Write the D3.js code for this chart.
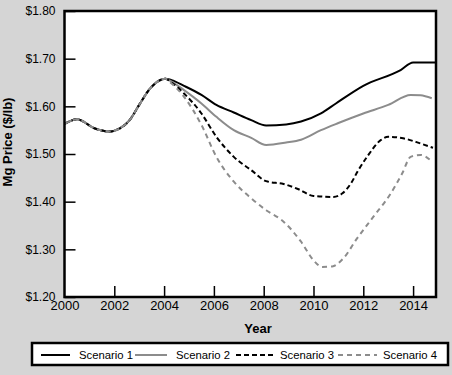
<!DOCTYPE html>
<html>
  <head>
    <meta charset="utf-8">
    <script src="https://d3js.org/d3.v7.min.js"></script>
    <style>
      body { margin: 0; background: #d5d5d5; }
      text { font-family: "Liberation Sans", Arial, sans-serif; }
    </style>
  </head>
  <body>
    <svg width="452" height="375"></svg>
    <script>

    // shared history (all scenarios equal up to 2004)
    var commonYears  = [2000, 2000.5, 2001.2, 2001.8, 2002.2, 2002.6, 2003, 2003.4, 2003.8, 2004.05];
    var commonPrices = [1.563, 1.573, 1.554, 1.547, 1.553, 1.570, 1.603, 1.635, 1.654, 1.658];

    // scenario forecasts after the 2004 peak
    var s1Years  = [2004.3, 2004.8, 2005.5, 2006.1, 2006.8, 2007.5, 2008.1, 2008.9, 2009.5, 2010.3, 2010.9, 2012, 2013.5, 2014, 2014.92];
    var s1Prices = [1.655, 1.643, 1.624, 1.603, 1.587, 1.571, 1.560, 1.562, 1.568, 1.585, 1.606, 1.643, 1.676, 1.692, 1.692];

    var s2Years  = [2004.3, 2004.8, 2005.5, 2006.1, 2006.8, 2007.5, 2008.1, 2008.9, 2009.5, 2010.3, 2011, 2012, 2013, 2013.9, 2014.3, 2014.75];
    var s2Prices = [1.652, 1.634, 1.606, 1.578, 1.550, 1.534, 1.519, 1.524, 1.530, 1.550, 1.565, 1.585, 1.603, 1.624, 1.623, 1.617];

    var s3Years  = [2004.3, 2004.8, 2005.5, 2006.1, 2006.8, 2007.5, 2008.1, 2008.8, 2009.4, 2010, 2010.8, 2011.15, 2011.5, 2011.8, 2012.15, 2012.7, 2013, 2013.6, 2014.3, 2014.8];
    var s3Prices = [1.650, 1.627, 1.585, 1.536, 1.494, 1.466, 1.443, 1.437, 1.426, 1.412, 1.410, 1.417, 1.438, 1.466, 1.494, 1.529, 1.536, 1.533, 1.522, 1.513];

    var s4Years  = [2004.3, 2004.8, 2005.5, 2006.1, 2006.8, 2007.5, 2008.1, 2008.8, 2009.5, 2010, 2010.35, 2010.75, 2011.2, 2011.75, 2012.4, 2013.1, 2013.56, 2013.9, 2014.3, 2014.7];
    var s4Prices = [1.648, 1.620, 1.561, 1.494, 1.442, 1.407, 1.382, 1.358, 1.316, 1.277, 1.263, 1.264, 1.281, 1.323, 1.368, 1.417, 1.459, 1.494, 1.498, 1.487];

    var scenarioNames = ["Scenario 1", "Scenario 2", "Scenario 3", "Scenario 4"];
    var xTicks = [2002, 2004, 2006, 2008, 2010, 2012, 2014];
    var xLabels = [2000, 2002, 2004, 2006, 2008, 2010, 2012, 2014];
    var yTicks = [1.20, 1.30, 1.40, 1.50, 1.60, 1.70, 1.80];

    var svg = d3.select("svg");

    // plot box (named to avoid clobbering window.top)
    var pLeft = 64.5, pRight = 436, pTop = 11, pBottom = 297;

    var x = d3.scaleLinear().domain([2000, 2014.92]).range([pLeft, pRight]);
    var y = d3.scaleLinear().domain([1.20, 1.80]).range([pBottom, pTop]);

    // background
    svg.append("rect").attr("width", 452).attr("height", 375).attr("fill", "#d5d5d5");
    svg.append("rect")
      .attr("x", pLeft).attr("y", pTop)
      .attr("width", pRight - pLeft).attr("height", pBottom - pTop)
      .attr("fill", "#fff");

    svg.append("clipPath").attr("id", "plotclip")
      .append("rect")
      .attr("x", pLeft).attr("y", pTop)
      .attr("width", pRight - pLeft).attr("height", pBottom - pTop);

    // build series
    var styles = [
      {color: "#000", dash: null},
      {color: "#8c8c8c", dash: null},
      {color: "#000", dash: "5,3"},
      {color: "#8c8c8c", dash: "5,4"}
    ];
    var yearsList = [s1Years, s2Years, s3Years, s4Years];
    var priceList = [s1Prices, s2Prices, s3Prices, s4Prices];

    var series = scenarioNames.map(function(name, i) {
      var pts = commonYears.map(function(yr, j) { return {year: yr, price: commonPrices[j]}; });
      yearsList[i].forEach(function(yr, j) { pts.push({year: yr, price: priceList[i][j]}); });
      return {name: name, points: pts, style: styles[i]};
    });

    var line = d3.line()
      .x(function(d) { return x(d.year); })
      .y(function(d) { return y(d.price); })
      .curve(d3.curveMonotoneX);

    svg.append("g").attr("clip-path", "url(#plotclip)")
      .selectAll("path.series")
      .data(series)
      .enter()
      .append("path")
      .attr("class", "series")
      .attr("d", function(d) { return line(d.points); })
      .attr("fill", "none")
      .attr("stroke", function(d) { return d.style.color; })
      .attr("stroke-width", 2)
      .attr("stroke-dasharray", function(d) { return d.style.dash; });

    // axes with inward ticks
    var xAxis = d3.axisBottom(x).tickValues(xTicks).tickSize(-11).tickFormat("");
    var gx = svg.append("g").attr("transform", "translate(0," + pBottom + ")").call(xAxis);
    gx.select(".domain").remove();
    gx.selectAll("line").attr("stroke", "#000").attr("stroke-width", 1.5);

    var xLab = d3.axisBottom(x).tickValues(xLabels).tickSize(0).tickPadding(4)
      .tickFormat(d3.format("d"));
    var gxl = svg.append("g").attr("transform", "translate(0," + pBottom + ")").call(xLab);
    gxl.select(".domain").remove();
    gxl.selectAll("text").attr("font-size", 13).attr("fill", "#000")
      .attr("font-family", "'Liberation Sans', Arial, sans-serif");

    var yAxis = d3.axisLeft(y).tickValues(yTicks).tickSize(-11).tickPadding(9)
      .tickFormat(function(d) { return "$" + d3.format(".2f")(d); });
    var gy = svg.append("g").attr("transform", "translate(" + pLeft + ",0)").call(yAxis);
    gy.select(".domain").remove();
    gy.selectAll("line").attr("stroke", "#000").attr("stroke-width", 1.5);
    gy.selectAll("text").attr("font-size", 12).attr("fill", "#000")
      .attr("font-family", "'Liberation Sans', Arial, sans-serif");

    // frame on top
    svg.append("rect")
      .attr("x", pLeft).attr("y", pTop)
      .attr("width", pRight - pLeft).attr("height", pBottom - pTop)
      .attr("fill", "none").attr("stroke", "#000").attr("stroke-width", 2.5);

    // axis titles
    svg.append("text")
      .attr("x", 258).attr("y", 333)
      .attr("text-anchor", "middle")
      .attr("font-size", 13).attr("font-weight", "bold")
      .text("Year");

    svg.append("text")
      .attr("transform", "translate(12,142) rotate(-90)")
      .attr("text-anchor", "middle")
      .attr("font-size", 13).attr("font-weight", "bold")
      .text("Mg Price ($/lb)");

    // legend
    var legend = svg.append("g");
    legend.append("rect")
      .attr("x", 32).attr("y", 343)
      .attr("width", 416).attr("height", 22)
      .attr("fill", "#fff").attr("stroke", "#000").attr("stroke-width", 2.5);

    var legendPos = [
      {x1: 41, x2: 70, tx: 79},
      {x1: 135, x2: 167, tx: 176},
      {x1: 236, x2: 276, tx: 280},
      {x1: 338, x2: 377, tx: 383}
    ];

    series.forEach(function(s, i) {
      var p = legendPos[i];
      legend.append("line")
        .attr("x1", p.x1).attr("x2", p.x2)
        .attr("y1", 355).attr("y2", 355)
        .attr("stroke", s.style.color)
        .attr("stroke-width", 2)
        .attr("stroke-dasharray", s.style.dash);
      legend.append("text")
        .attr("x", p.tx).attr("y", 358.5)
        .attr("font-size", 11.3)
        .text(s.name);
    });

    </script>
  </body>
</html>
